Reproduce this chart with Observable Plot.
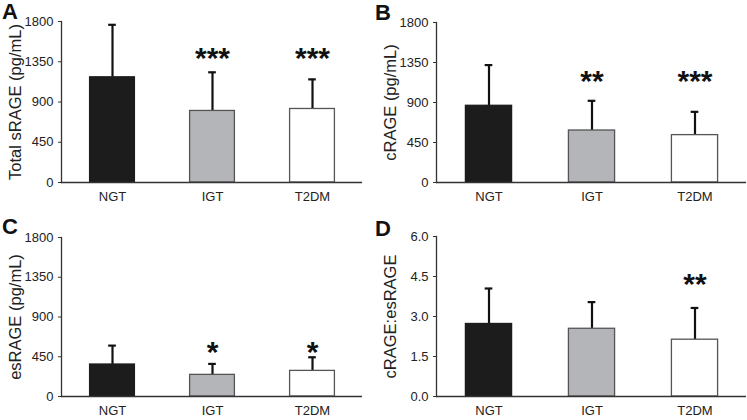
<!DOCTYPE html>
<html>
<head>
<meta charset="utf-8">
<script src="https://cdn.jsdelivr.net/npm/d3@7"></script>
<script src="https://cdn.jsdelivr.net/npm/@observablehq/plot@0.6"></script>
<style>
  html, body { margin: 0; padding: 0; background: #fff; }
  #root { position: relative; width: 747px; height: 420px; overflow: hidden; font-family: "Liberation Sans", Arial, sans-serif; }
  .panel { position: absolute; }
  .letter { position: absolute; font-weight: bold; font-size: 22px; line-height: 1; color: #111; }
  g[aria-label$="tick label"] text { font-size: 13px !important; }
  g[aria-label="y-axis label"] text { font-size: 16.5px !important; }
</style>
</head>
<body>
<div id="root"></div>
<script>
// ---- data ----
const groups = ["NGT", "IGT", "T2DM"];

const totalMean = [1176, 800, 822];
const totalSD   = [587, 432, 331];
const totalStars = ["", "***", "***"];

const cMean = [863, 585, 533];
const cSD   = [458, 334, 262];
const cStars = ["", "**", "***"];

const esMean = [362, 245, 290];
const esSD   = [214, 124, 154];
const esStars = ["", "*", "*"];

const ratioMean = [2.72, 2.54, 2.13];
const ratioSD   = [1.33, 1.00, 1.19];
const ratioStars = ["", "", "**"];

const concTicks = [0, 450, 900, 1350, 1800];
const ratioTicks = [0, 1.5, 3.0, 4.5, 6.0];

const starLevel = {A: 1467, B: 1219, C: 584, D: 4.47};

const fills   = ["#1c1c1c", "#b4b5b9", "#ffffff"];
const strokes = ["#1c1c1c", "#555555", "#555555"];

// ---- layout ----
const panels = [
  {letter: "A", label: "Total sRAGE (pg/mL)", mean: totalMean, sd: totalSD, stars: totalStars, ticks: concTicks, fmt: d3.format("d"), star: starLevel.A,
   left: 0, top: 0, width: 373, height: 210, mL: 61, mT: 21, mB: 28, mR: 11, lx: 2, ly: 1},
  {letter: "B", label: "cRAGE (pg/mL)", mean: cMean, sd: cSD, stars: cStars, ticks: concTicks, fmt: d3.format("d"), star: starLevel.B,
   left: 373, top: 0, width: 374, height: 210, mL: 63, mT: 22, mB: 28, mR: 1, lx: 375, ly: 2},
  {letter: "C", label: "esRAGE (pg/mL)", mean: esMean, sd: esSD, stars: esStars, ticks: concTicks, fmt: d3.format("d"), star: starLevel.C,
   left: 0, top: 210, width: 373, height: 210, mL: 61, mT: 27, mB: 24, mR: 11, lx: 2, ly: 216},
  {letter: "D", label: "cRAGE:esRAGE", mean: ratioMean, sd: ratioSD, stars: ratioStars, ticks: ratioTicks, fmt: d3.format(".1f"), star: starLevel.D,
   left: 373, top: 210, width: 374, height: 210, mL: 63, mT: 26, mB: 24, mR: 1, lx: 375, ly: 218}
];

const root = document.getElementById("root");

for (const p of panels) {
  const rows = groups.map((g, i) => ({group: g, mean: p.mean[i], upper: p.mean[i] + p.sd[i], star: p.stars[i], fill: fills[i], stroke: strokes[i]}));
  const step = (p.width - p.mL - p.mR) / groups.length;
  const barInset = step * 0.275;
  const capInset = (step - 8) / 2;
  const yMax = p.ticks[p.ticks.length - 1];

  const chart = Plot.plot({
    width: p.width,
    height: p.height,
    marginLeft: p.mL,
    marginTop: p.mT,
    marginBottom: p.mB,
    marginRight: p.mR,
    style: {fontFamily: "Liberation Sans, Arial, sans-serif", fontSize: "13px", color: "#222", background: "transparent"},
    x: {domain: groups, padding: 0},
    y: {domain: [0, yMax]},
    marks: [
      Plot.ruleX(rows, {x: "group", y1: "mean", y2: "upper", stroke: "#111", strokeWidth: 2.2}),
      Plot.tickY(rows, {x: "group", y: "upper", stroke: "#111", strokeWidth: 2.2, insetLeft: capInset, insetRight: capInset}),
      Plot.barY(rows, {x: "group", y: "mean", fill: d => d.fill, stroke: d => d.stroke, strokeWidth: 1.3, insetLeft: barInset, insetRight: barInset}),
      Plot.text(rows.filter(d => d.star), {x: "group", y: () => p.star, text: "star", fontSize: 30, fontWeight: "bold", fill: "#111", dy: 7}),
      Plot.axisY({ticks: p.ticks, tickFormat: p.fmt, tickSize: 3, tickPadding: 5, stroke: "#333", label: p.label, labelAnchor: "center", labelArrow: "none", labelOffset: 52}),
      Plot.axisX({tickSize: 0, tickPadding: 9, label: null}),
      Plot.ruleY([0], {stroke: "#333", strokeWidth: 1.3}),
      Plot.frame({anchor: "left", stroke: "#333", strokeWidth: 1.3})
    ]
  });
  const wrap = document.createElement("div");
  wrap.className = "panel";
  wrap.style.left = p.left + "px";
  wrap.style.top = p.top + "px";
  wrap.appendChild(chart);
  root.appendChild(wrap);

  const letter = document.createElement("div");
  letter.className = "letter";
  letter.textContent = p.letter;
  letter.style.left = p.lx + "px";
  letter.style.top = p.ly + "px";
  root.appendChild(letter);
}
</script>
</body>
</html>
